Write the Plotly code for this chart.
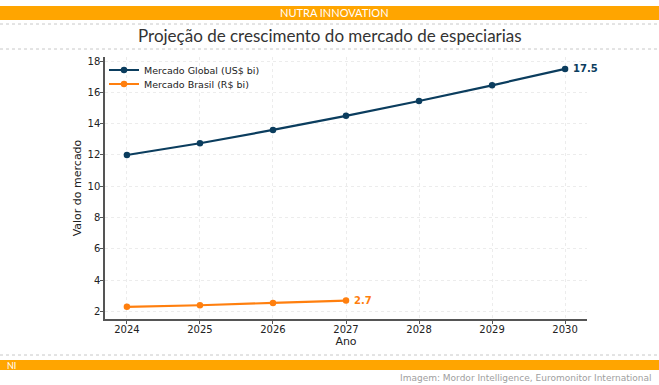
import plotly.graph_objects as go

anos = [2024, 2025, 2026, 2027, 2028, 2029, 2030]
global_vals = [12.0, 12.75, 13.6, 14.5, 15.45, 16.45, 17.5]
anos_br = [2024, 2025, 2026, 2027]
brasil_vals = [2.3, 2.4, 2.55, 2.7]
y_ticks = [2, 4, 6, 8, 10, 12, 14, 16, 18]

C_GLOBAL = "#0b3d5e"
C_BR = "#ff7f0e"
ORANGE = "#ffa500"

W, H = 659, 385
L, R, T, B = 105, 72, 57, 66
PW = W - L - R
PH = H - T - B

def px(x):
    return (x - L) / PW

def py(y):
    return (H - B - y) / PH

fig = go.Figure()
fig.add_trace(go.Scatter(x=anos, y=global_vals, mode="lines+markers",
                         name="Mercado Global (US$ bi)", legend="legend",
                         line=dict(color=C_GLOBAL, width=2.2),
                         marker=dict(color=C_GLOBAL, size=6.5)))
fig.add_trace(go.Scatter(x=anos_br, y=brasil_vals, mode="lines+markers",
                         name="Mercado Brasil (R$ bi)", legend="legend2",
                         line=dict(color=C_BR, width=2.2),
                         marker=dict(color=C_BR, size=6.5)))

fig.add_annotation(x=anos[-1], y=global_vals[-1], text="<b>%.1f</b>" % global_vals[-1],
                   showarrow=False, xanchor="left", xshift=6,
                   font=dict(color=C_GLOBAL, size=10, family="DejaVu Sans"))
fig.add_annotation(x=anos_br[-1], y=brasil_vals[-1], text="<b>%.1f</b>" % brasil_vals[-1],
                   showarrow=False, xanchor="left", xshift=6,
                   font=dict(color=C_BR, size=10, family="DejaVu Sans"))

shapes = []
shapes.append(dict(type="rect", xref="paper", yref="paper", x0=px(0), x1=px(W),
                   y0=py(20), y1=py(6), fillcolor=ORANGE, line=dict(width=0), layer="above"))
shapes.append(dict(type="rect", xref="paper", yref="paper", x0=px(0), x1=px(W),
                   y0=py(370), y1=py(360), fillcolor=ORANGE, line=dict(width=0), layer="above"))
for yy in (24, 49, 355):
    shapes.append(dict(type="line", xref="paper", yref="paper", x0=px(0), x1=px(W),
                       y0=py(yy), y1=py(yy), line=dict(color="#c8c8c8", width=1, dash="dot")))

annos = [
    dict(text="NUTRA INNOVATION", x=px(W / 2 + 5), y=py(13), xref="paper", yref="paper",
         showarrow=False, font=dict(color="white", size=11, family="Lato"),
         xanchor="center", yanchor="middle"),
    dict(text="Projeção de crescimento do mercado de especiarias", x=px(W / 2), y=py(36),
         xref="paper", yref="paper", showarrow=False,
         font=dict(color="#333333", size=17, family="Lato"), xanchor="center", yanchor="middle"),
    dict(text="NI", x=px(5), y=py(365), xref="paper", yref="paper", showarrow=False,
         font=dict(color="white", size=9, family="Lato"), xanchor="left", yanchor="middle"),
    dict(text="Imagem: Mordor Intelligence, Euromonitor International", x=px(653), y=py(378),
         xref="paper", yref="paper", showarrow=False,
         font=dict(color="#a0a0a0", size=9, family="DejaVu Sans"), xanchor="right", yanchor="middle"),
]
for a in annos:
    fig.add_annotation(**a)

leg_common = dict(xanchor="left", yanchor="middle", bgcolor="rgba(0,0,0,0)",
                  font=dict(size=9.5, color="#222"), itemwidth=30, borderwidth=0)

fig.update_layout(
    width=W, height=H,
    margin=dict(l=L, r=R, t=T, b=B, pad=0),
    paper_bgcolor="white", plot_bgcolor="white",
    font=dict(family="DejaVu Sans", color="#222222", size=10),
    shapes=shapes,
    showlegend=True,
    legend=dict(x=px(104), y=py(70), **leg_common),
    legend2=dict(x=px(104), y=py(84), **leg_common),
    xaxis=dict(range=[2023.7, 2030.3], tickvals=anos, ticktext=[str(a) for a in anos],
               showgrid=True, gridcolor="#ececec", griddash="dot", gridwidth=1,
               showline=True, linecolor="#555", linewidth=1.5,
               ticks="outside", ticklen=3, tickcolor="#555", zeroline=False,
               ticklabelstandoff=-3,
               title=dict(text="Ano", font=dict(size=11), standoff=4),
               tickfont=dict(size=10)),
    yaxis=dict(range=[1.52, 18.26], tickvals=y_ticks,
               showgrid=True, gridcolor="#ececec", griddash="dot", gridwidth=1,
               showline=True, linecolor="#555", linewidth=1.5,
               ticks="outside", ticklen=3, tickcolor="#555", zeroline=False,
               ticklabelstandoff=-2,
               title=dict(text="Valor do mercado", font=dict(size=11), standoff=4),
               tickfont=dict(size=10)),
)

fig.write_html("out.html", config={"displayModeBar": False},
               post_script="document.body.style.margin='0';")
